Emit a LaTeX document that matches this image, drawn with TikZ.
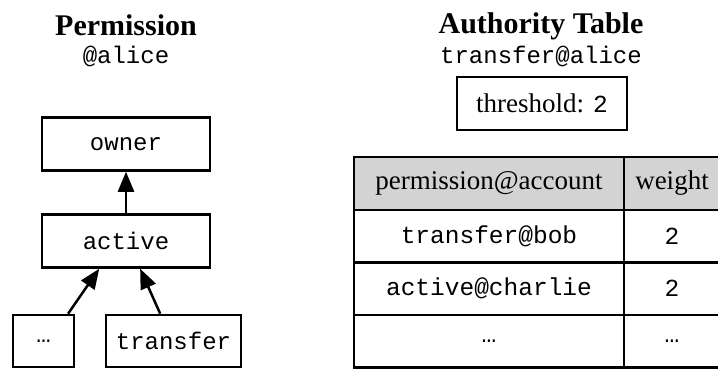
\documentclass[tikz,border=0pt]{standalone}
\usepackage{fontspec}
\setmainfont{Liberation Serif}
\setmonofont{Liberation Mono}
\usetikzlibrary{arrows.meta}
\definecolor{headergray}{RGB}{211, 211, 211}

\begin{document}
\begin{tikzpicture}[x=1pt, y=-1pt,
        permbox/.style={rectangle, draw, line width=2.5pt, minimum height=53pt, inner sep=0pt, font=\fontsize{24}{28}\selectfont\ttfamily},
        cell/.style={rectangle, draw, line width=2.5pt, minimum height=52.5pt, inner sep=0pt, font=\fontsize{24.5}{28}\selectfont\ttfamily},
        hdrcell/.style={cell, fill=headergray, font=\fontsize{27}{30}\selectfont\rmfamily},
        title/.style={anchor=base, font=\fontsize{30}{34}\selectfont\bfseries},
        subtitle/.style={anchor=base, font=\fontsize{24}{28}\selectfont\ttfamily},
        link/.style={-{Triangle[length=20pt, width=16pt]}, line width=2.5pt}
    ]
        \useasboundingbox (0,0) rectangle (718,368);

        % permission tree
        \node[title] (permtitle) at (126, 35) {Permission};
        \node[subtitle] (permacct) at (126, 63) {@alice};
        \node[permbox, minimum width=168pt] (owner) at (126, 144) {owner};
        \node[permbox, minimum width=168pt] (active) at (126, 241) {active};
        \node[permbox, minimum width=61pt, minimum height=52pt] (dots) at (43.5, 341) {…};
        \node[permbox, minimum width=135pt, minimum height=52pt] (transfer) at (173.5, 341) {transfer};

        \draw[link] (active) -- (owner);
        \draw[link] (dots.48) -- (active.226);
        \draw[link] (transfer.116) -- (active.297);

        % authority table
        \node[title] (authtitle) at (541, 33) {Authority Table};
        \node[subtitle] (authperm) at (541, 63) {transfer@alice};
        \node[cell, minimum width=170pt, minimum height=53pt, font=\fontsize{27}{30}\selectfont\rmfamily] (threshold) at (542, 103.5) {threshold: \texttt{\fontsize{24.5}{28}\selectfont 2}};

        \node[hdrcell, minimum width=270pt, minimum height=53pt] (hdrperm) at (489, 183.5) {permission@account};
        \node[hdrcell, minimum width=96pt, minimum height=53pt] (hdrweight) at (672, 183.5) {weight};
        \node[cell, minimum width=270pt] (bobperm) at (489, 236) {transfer@bob};
        \node[cell, minimum width=96pt] (bobweight) at (672, 236) {2};
        \node[cell, minimum width=270pt] (charlieperm) at (489, 288.5) {active@charlie};
        \node[cell, minimum width=96pt] (charlieweight) at (672, 288.5) {2};
        \node[cell, minimum width=270pt] (moreperm) at (489, 341) {…};
        \node[cell, minimum width=96pt] (moreweight) at (672, 341) {…};
    \end{tikzpicture}
\end{document}
